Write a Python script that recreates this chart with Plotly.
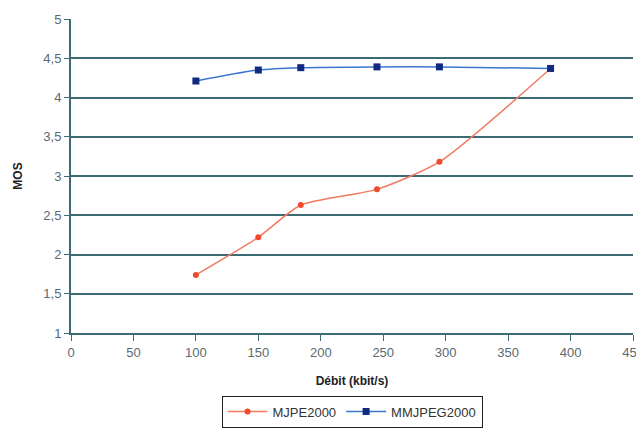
import plotly.graph_objects as go

debit = [100, 150, 184, 245, 295, 384]
mjpe2000 = [1.74, 2.22, 2.63, 2.83, 3.18, 4.37]
mmjpeg2000 = [4.21, 4.35, 4.38, 4.39, 4.39, 4.37]

fig = go.Figure()
fig.add_trace(go.Scatter(
    x=debit, y=mjpe2000, name="MJPE2000", mode="lines+markers",
    line=dict(color="#f27a62", width=1.5, shape="spline", smoothing=0.6),
    marker=dict(color="#f04a2a", size=6, symbol="circle"),
))
fig.add_trace(go.Scatter(
    x=debit, y=mmjpeg2000, name="MMJPEG2000", mode="lines+markers",
    line=dict(color="#3a78d0", width=1.5, shape="spline", smoothing=0.6),
    marker=dict(color="#0f2a80", size=7, symbol="square"),
))

axis_font = dict(family="Liberation Sans, Arial", size=13, color="#5a6a70")
fig.update_layout(
    width=636, height=425,
    paper_bgcolor="white", plot_bgcolor="white",
    margin=dict(l=63, r=11, t=11, b=100),
    font=dict(family="Liberation Sans, Arial", size=12, color="#333"),
    xaxis=dict(
        range=[0, 450], tickvals=[0, 50, 100, 150, 200, 250, 300, 350, 400, 450],
        showgrid=False, zeroline=False, showline=True, linecolor="#3d6b73", linewidth=2,
        ticks="outside", ticklen=6, tickcolor="#3d6b73", tickfont=axis_font,
        automargin=False,
        title=dict(text="<b>Débit (kbit/s)</b>", font=dict(size=12, color="#222"), standoff=18),
    ),
    yaxis=dict(
        range=[1, 5], tickvals=[1, 1.5, 2, 2.5, 3, 3.5, 4, 4.5, 5],
        ticktext=["1", "1,5", "2", "2,5", "3", "3,5", "4", "4,5", "5"],
        showgrid=True, gridcolor="#3d6b73", gridwidth=2, zeroline=False,
        showline=True, linecolor="#3d6b73", linewidth=2,
        ticks="outside", ticklen=5, tickcolor="#3d6b73", tickfont=axis_font,
        automargin=False,
        title=dict(text="<b>MOS</b>", font=dict(size=12, color="#222"), standoff=18),
    ),
    legend=dict(
        orientation="h", x=0.5, xanchor="center", xref="paper",
        y=0.088, yanchor="top", yref="container",
        bordercolor="#222", borderwidth=1, font=dict(size=13, color="#333"),
        itemwidth=40, tracegroupgap=0,
    ),
)
fig.write_html("out.html")
